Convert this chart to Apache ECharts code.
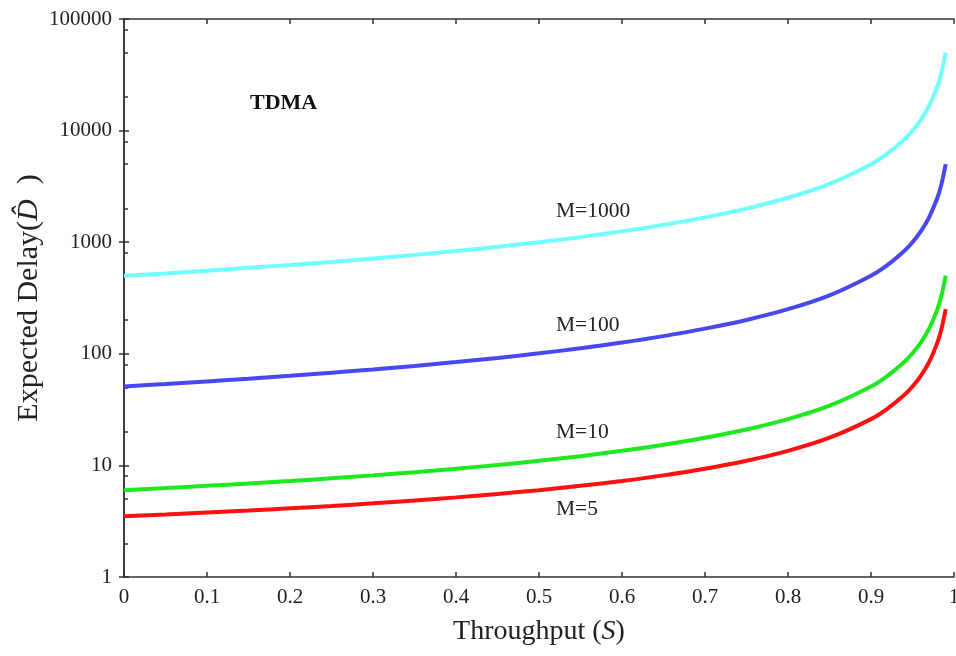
<!DOCTYPE html>
<html>
<head>
<meta charset="utf-8">
<script src="https://cdn.jsdelivr.net/npm/echarts@6/dist/echarts.min.js"></script>
<style>
  html, body { margin: 0; padding: 0; background: #fff; }
  #chart { width: 956px; height: 656px; }
</style>
</head>
<body>
<div id="chart"></div>
<script>
// throughput samples (S)
var throughput = [0, 0.05, 0.1, 0.15, 0.2, 0.25, 0.3, 0.35, 0.4, 0.45, 0.5, 0.55, 0.6, 0.65, 0.7, 0.75, 0.8, 0.85, 0.9, 0.92, 0.94, 0.95, 0.96, 0.97, 0.98, 0.985, 0.99]

// expected delay, one list per M
var delayM1000 = [500, 525, 555, 590, 625, 665, 715, 770, 835, 910, 1000, 1110, 1250, 1430, 1670, 2000, 2500, 3330, 5000, 6250, 8330, 10000, 12500, 16700, 25000, 33300, 50000]
var delayM100 = [51, 53.6, 56.6, 59.8, 63.5, 67.7, 72.4, 77.9, 84.3, 91.9, 101, 112, 126, 144, 168, 201, 251, 334, 501, 626, 834, 1000, 1250, 1670, 2500, 3330, 5000]
var delayM10 = [6, 6.26, 6.56, 6.88, 7.25, 7.67, 8.14, 8.69, 9.33, 10.1, 11, 12.1, 13.5, 15.3, 17.7, 21, 26, 34.3, 51, 63.5, 84.3, 101, 126, 168, 251, 334, 501]
var delayM5 = [3.5, 3.63, 3.78, 3.94, 4.13, 4.33, 4.57, 4.85, 5.17, 5.55, 6, 6.56, 7.25, 8.14, 9.33, 11, 13.5, 17.7, 26, 32.3, 42.7, 51, 63.5, 84.3, 126, 168, 251]

// minor ticks on the left axis
var minorTicks = [2, 5, 8, 20, 50, 80, 200, 500, 800, 2000, 5000, 8000, 20000, 50000, 80000]

var serif = 'Liberation Serif'
var axisColor = '#333'

function pairs (ys) {
  return throughput.map(function (s, i) { return [s, ys[i]] })
}

function curve (name, ys, color) {
  return {
    name: name,
    type: 'line',
    smooth: 0.3,
    symbol: 'none',
    xAxisIndex: 0,
    yAxisIndex: 0,
    lineStyle: { width: 4, color: color },
    data: pairs(ys)
  }
}

var chart = echarts.init(document.getElementById('chart'))

chart.setOption({
  animation: false,
  grid: { left: 124, right: 2, top: 19, bottom: 79, outerBoundsMode: 'none' },
  xAxis: [
    {
      type: 'value',
      min: 0,
      max: 1,
      interval: 0.1,
      name: '{a|Throughput (}{b|S}{a|)}',
      nameLocation: 'middle',
      nameGap: 41,
      nameTextStyle: {
        rich: {
          a: { fontFamily: serif, fontSize: 28, color: '#222' },
          b: { fontFamily: serif, fontSize: 28, fontStyle: 'italic', color: '#222' }
        }
      },
      axisLine: { show: true, lineStyle: { color: axisColor, width: 1.5 } },
      axisTick: { show: true, inside: true, length: 5, lineStyle: { color: axisColor, width: 1.5 } },
      axisLabel: { fontFamily: serif, fontSize: 21, color: '#222', margin: 10 },
      splitLine: { show: false }
    },
    {
      type: 'value',
      position: 'top',
      min: 0,
      max: 1,
      interval: 0.1,
      axisLine: { show: true, lineStyle: { color: axisColor, width: 1.5 } },
      axisTick: { show: true, inside: true, length: 5, lineStyle: { color: axisColor, width: 1.5 } },
      axisLabel: { show: false },
      splitLine: { show: false }
    }
  ],
  yAxis: [
    {
      type: 'log',
      logBase: 10,
      min: 1,
      max: 100000,
      name: '{a|Expected Delay}{b|(}{c|D\u0302}{b|  )}',
      nameLocation: 'middle',
      nameGap: 80,
      nameMoveOverlap: false,
      nameTextStyle: {
        rich: {
          a: { fontFamily: serif, fontSize: 30, color: '#222' },
          b: { fontFamily: serif, fontSize: 30, color: '#222' },
          c: { fontFamily: serif, fontSize: 30, fontStyle: 'italic', color: '#222' }
        }
      },
      axisLine: { show: true, lineStyle: { color: axisColor, width: 1.5 } },
      axisTick: { show: true, inside: true, length: 5, lineStyle: { color: axisColor, width: 1.5 } },
      axisLabel: {
        fontFamily: serif,
        fontSize: 21,
        color: '#222',
        margin: 12,
        formatter: function (v) { return String(Math.round(v)) }
      },
      splitLine: { show: false }
    },
    {
      type: 'log',
      logBase: 10,
      min: 1,
      max: 100000,
      position: 'right',
      axisLine: { show: true, lineStyle: { color: axisColor, width: 1.5 } },
      axisTick: { show: true, inside: true, length: 5, lineStyle: { color: axisColor, width: 1.5 } },
      axisLabel: { show: false },
      splitLine: { show: false }
    },
    {
      // decades in log10 units, only used to place the minor ticks
      type: 'value',
      min: 0,
      max: 5,
      position: 'left',
      axisLine: { show: false },
      axisTick: {
        show: true,
        inside: true,
        length: 4,
        customValues: minorTicks.map(function (v) { return Math.log10(v) }),
        lineStyle: { color: axisColor, width: 1.5 }
      },
      axisLabel: { show: false },
      splitLine: { show: false }
    }
  ],
  graphic: [
    { type: 'text', left: 250, top: 92, style: { text: 'TDMA', font: 'bold 22px ' + serif, fill: '#111' } },
    { type: 'text', left: 556, top: 200, style: { text: 'M=1000', font: '21.5px ' + serif, fill: '#222' } },
    { type: 'text', left: 556, top: 314, style: { text: 'M=100', font: '21.5px ' + serif, fill: '#222' } },
    { type: 'text', left: 556, top: 421, style: { text: 'M=10', font: '21.5px ' + serif, fill: '#222' } },
    { type: 'text', left: 556, top: 498, style: { text: 'M=5', font: '21.5px ' + serif, fill: '#222' } }
  ],
  series: [
    curve('M=1000', delayM1000, '#70ffff'),
    curve('M=100', delayM100, '#4848f0'),
    curve('M=10', delayM10, '#1ee81e'),
    curve('M=5', delayM5, '#ff1010')
  ]
})
</script>
</body>
</html>
